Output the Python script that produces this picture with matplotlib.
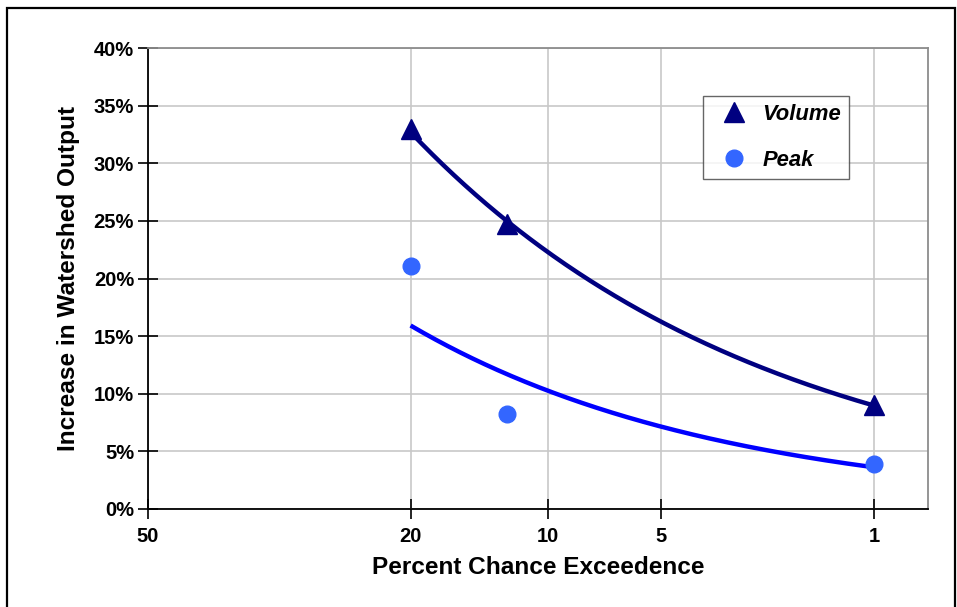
from statistics import NormalDist

import matplotlib
matplotlib.use("Agg")
import matplotlib.pyplot as plt
import numpy as np
from matplotlib.patches import Rectangle
from matplotlib.ticker import FuncFormatter

plt.rcParams["font.family"] = ["Liberation Sans", "DejaVu Sans"]
plt.rcParams["font.weight"] = "bold"

# Exceedance probabilities (percent) and observed increases (percent)
exceedance = [20, 12.5, 1]
volume = [33.0, 24.7, 9.0]
peak = [21.1, 8.2, 3.9]

x_ticks = [50, 20, 10, 5, 1]
y_ticks = [0, 5, 10, 15, 20, 25, 30, 35, 40]

nd = NormalDist()


def to_z_list(ps):
    """Normal-probability positions for percent exceedances."""
    return np.array([nd.inv_cdf(1 - p / 100.0) for p in ps])


def exp_trend(xs, ys, x_eval):
    """Least-squares exponential trendline y = a*exp(b*x)."""
    b, ln_a = np.polyfit(xs, np.log(ys), 1)
    return np.exp(ln_a + b * x_eval)


fig = plt.figure(figsize=(9.57, 6.07), dpi=100)
ax = fig.add_axes([148 / 957, 1 - 509 / 607, (928 - 148) / 957, (509 - 48) / 607])

# outer chart frame
fig.patches.append(Rectangle((7 / 957, -0.05), (955 - 7) / 957, 1.05 - 8 / 607,
                             transform=fig.transFigure, fill=False,
                             edgecolor="black", linewidth=1.6, zorder=0))

zx = to_z_list(exceedance)
z_fit = np.linspace(zx[0], zx[-1], 300)

ax.plot(z_fit, exp_trend(zx, volume, z_fit), color="#000080", lw=3.2,
        solid_capstyle="butt", zorder=3)
ax.plot(z_fit, exp_trend(zx, peak, z_fit), color="#0000FF", lw=3.2,
        solid_capstyle="butt", zorder=3)

ax.plot(zx, volume, linestyle="none", marker="^", markersize=14,
        color="#000080", label="Volume", zorder=4)
ax.plot(zx, peak, linestyle="none", marker="o", markersize=12,
        color="#3366FF", label="Peak", zorder=4)

ax.set_xlim(0, 2.5)
ax.set_ylim(0, 40)

ax.set_xticks(to_z_list(x_ticks))
ax.set_xticklabels([str(t) for t in x_ticks])
ax.set_yticks(y_ticks)
ax.yaxis.set_major_formatter(FuncFormatter(lambda v, _: f"{v:.0f}%"))

ax.tick_params(axis="both", which="major", direction="inout", length=14,
               width=1.2, labelsize=14.5, color="black")
ax.tick_params(axis="x", pad=6)
ax.tick_params(axis="y", pad=3)

ax.grid(True, color="#C8C8C8", linewidth=1.2, zorder=0)
ax.set_axisbelow(True)

for side in ("left", "bottom"):
    ax.spines[side].set_color("black")
    ax.spines[side].set_linewidth(1.3)
for side in ("top", "right"):
    ax.spines[side].set_color("#8C8C8C")
    ax.spines[side].set_linewidth(1.3)

ax.set_xlabel("Percent Chance Exceedence", fontsize=17.6, fontweight="bold",
              labelpad=7)
ax.set_ylabel("Increase in Watershed Output", fontsize=17.6, fontweight="bold",
              labelpad=10)

leg = ax.legend(loc="upper left", bbox_to_anchor=((703 - 148) / 780, (509 - 96) / 461),
                frameon=True, fancybox=False, edgecolor="#404040",
                prop={"size": 15.8, "weight": "bold", "style": "italic"},
                borderpad=0.35, labelspacing=1.15, handletextpad=0.25,
                handlelength=2.1, borderaxespad=0)
leg.get_frame().set_linewidth(1.0)

fig.savefig("out.png", dpi=100)
